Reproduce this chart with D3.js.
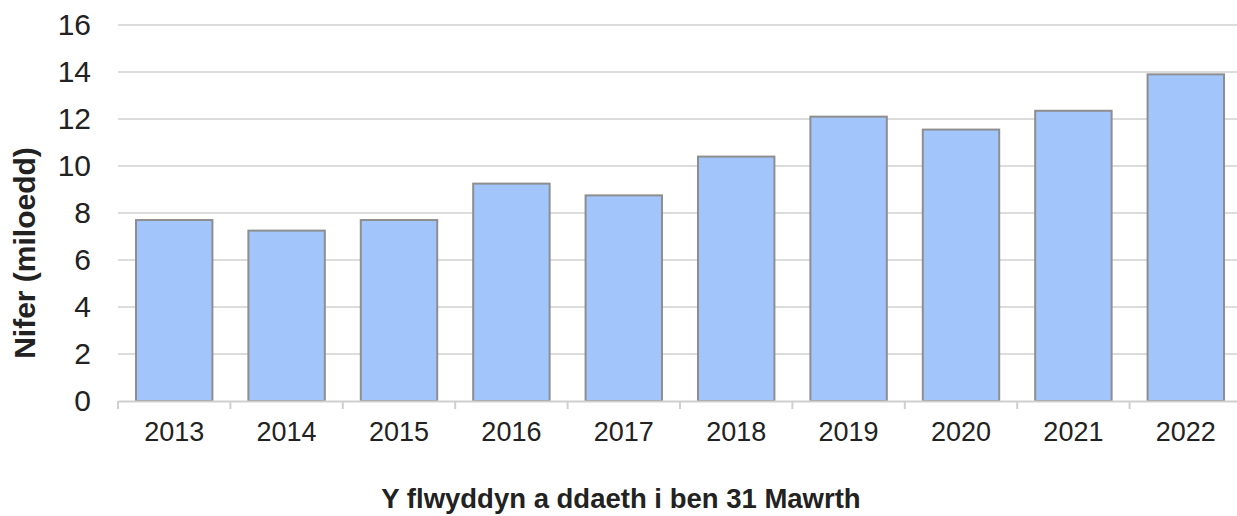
<!DOCTYPE html>
<html>
<head>
<meta charset="utf-8">
<script src="https://cdn.jsdelivr.net/npm/d3@7"></script>
<style>
  body { margin: 0; background: #fff; }
  svg text { font-family: "Liberation Sans", Arial, sans-serif; fill: #222; }
</style>
</head>
<body>
<div id="chart"></div>
<script>
const years = ['2013', '2014', '2015', '2016', '2017', '2018', '2019', '2020', '2021', '2022'];
const counts = [7.7, 7.25, 7.7, 9.25, 8.75, 10.4, 12.1, 11.55, 12.35, 13.9];
const yTicks = [0, 2, 4, 6, 8, 10, 12, 14, 16];
const xTitle = 'Y flwyddyn a ddaeth i ben 31 Mawrth';
const yTitle = 'Nifer (miloedd)';

const width = 1237, height = 516;
const margin = { top: 25, right: -5, bottom: 115, left: 118 };
const innerW = width - margin.left - margin.right;
const innerH = height - margin.top - margin.bottom;

const svg = d3.select('#chart')
  .append('svg')
  .attr('width', width)
  .attr('height', height);

const g = svg.append('g')
  .attr('transform', `translate(${margin.left},${margin.top})`);

const x = d3.scaleBand()
  .domain(years)
  .range([0, innerW])
  .paddingInner(0.32)
  .paddingOuter(0.16);

const y = d3.scaleLinear()
  .domain([0, 16])
  .range([innerH, 0]);

// gridlines
g.selectAll('.grid')
  .data(yTicks.filter(d => d > 0))
  .enter().append('line')
  .attr('class', 'grid')
  .attr('x1', 0)
  .attr('x2', innerW)
  .attr('y1', d => y(d))
  .attr('y2', d => y(d))
  .attr('stroke', '#dcdcdc')
  .attr('stroke-width', 2);

// y axis labels
const yAxis = g.append('g')
  .call(d3.axisLeft(y).tickValues(yTicks).tickSize(0).tickPadding(27));
yAxis.select('.domain').remove();
yAxis.selectAll('text')
  .attr('font-size', 30)
  .attr('fill', '#222');

// bars
g.selectAll('.bar')
  .data(counts)
  .enter().append('rect')
  .attr('class', 'bar')
  .attr('x', (d, i) => x(years[i]))
  .attr('y', d => y(d))
  .attr('width', x.bandwidth())
  .attr('height', d => innerH - y(d))
  .attr('fill', '#a2c6fc')
  .attr('stroke', '#8e8e8e')
  .attr('stroke-width', 2);

// x axis
const step = x.step();
const xAxis = g.append('g')
  .attr('transform', `translate(0,${innerH})`)
  .call(d3.axisBottom(x).tickSize(0).tickPadding(21));
xAxis.select('.domain')
  .attr('stroke', '#cfcfcf')
  .attr('stroke-width', 2);
xAxis.selectAll('text')
  .attr('font-size', 27)
  .attr('fill', '#222');

// category separator ticks
g.selectAll('.sep')
  .data(d3.range(years.length + 1))
  .enter().append('line')
  .attr('class', 'sep')
  .attr('x1', i => x.range()[0] + i * step)
  .attr('x2', i => x.range()[0] + i * step)
  .attr('y1', innerH)
  .attr('y2', innerH + 8)
  .attr('stroke', '#cfcfcf')
  .attr('stroke-width', 2);

// axis titles
svg.append('text')
  .attr('x', 621)
  .attr('y', 508)
  .attr('text-anchor', 'middle')
  .attr('font-size', 27.5)
  .attr('font-weight', 'bold')
  .attr('fill', '#111')
  .text(xTitle);

svg.append('text')
  .attr('transform', 'translate(35,253) rotate(-90)')
  .attr('text-anchor', 'middle')
  .attr('font-size', 30)
  .attr('font-weight', 'bold')
  .attr('fill', '#111')
  .text(yTitle);
</script>
</body>
</html>
